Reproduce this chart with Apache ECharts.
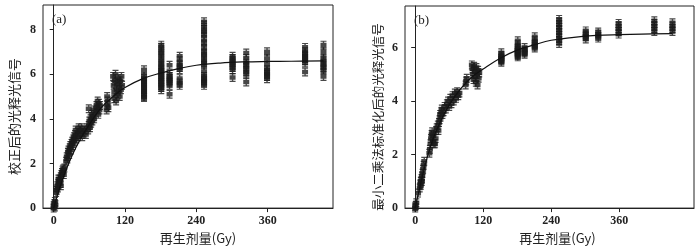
<!DOCTYPE html>
<html><head><meta charset="utf-8">
<script src="https://cdn.jsdelivr.net/npm/echarts@6/dist/echarts.min.js"></script>
<style>html,body{margin:0;padding:0;background:#fff}#c{width:700px;height:250px}</style>
</head><body><div id="c"></div>
<script>
// ---------- Panel (a): 校正后的光释光信号 ----------
// variable-dose aliquots (x = dose Gy, y = signal)
const lowDoseA = [0,0,1,2,2,3,4,5,6,7,8,8,9,10,11,12,12,13,14,15,16,17,18,21,22,23,24,25,26,27,28,29,30,31,32,33,34,35,36,37,38,40,41,42,44,45,47,48,50,52,54,56,58,59,59,60,61,62,63,64,65,66,67,68,71,72,73,74,75,76,77,78,89,90,90,91,92,100,101,102,102,103,104,105,106,107,108,109,110,111,112,113,114,115];
const lowSignalA = [0.0,0.1,0.2,0.05,0.3,0.15,0.7,0.8,1.0,0.9,1.1,1.3,1.2,1.3,1.1,1.4,1.0,1.5,1.6,1.7,1.75,1.5,1.8,2.1,2.3,2.2,2.5,2.6,2.4,2.7,2.8,2.6,2.9,3.0,2.8,3.1,3.2,3.0,3.3,3.5,3.1,3.4,3.2,3.6,3.3,3.5,3.6,3.2,3.4,3.5,3.3,3.6,3.5,3.7,4.45,3.9,3.6,4.0,3.8,4.2,3.9,4.1,4.4,4.0,4.3,4.6,4.5,4.8,4.2,4.7,4.4,4.6,4.4,4.6,5.0,4.8,4.5,5.9,5.5,5.2,4.9,5.7,6.0,4.8,5.3,5.6,5.1,5.8,5.4,5.0,5.7,5.3,5.9,5.5];
// fixed-dose aliquot groups
const groupDosesA = [152,181,195,212,253,301,324,359,423,454];
const groupSignalsA = [
  [6.2,5.9,5.8,5.7,5.5,5.4,5.3,5.2,5.1,5.0,4.95,5.6],
  [7.3,7.2,7.0,6.9,6.7,6.6,6.4,6.3,6.2,6.1,6.0,5.9,5.8,5.7,5.6,5.5,5.4,5.3],
  [6.4,6.0,5.9,5.8,5.7,5.6,5.5,5.1],
  [6.8,6.6,6.4,6.3,6.2,5.8,5.6,5.5],
  [8.35,8.2,8.0,7.9,7.7,7.5,7.3,7.1,6.9,6.8,6.6,6.5,6.4,6.1,5.9,5.8,5.7,5.6,5.5],
  [6.8,6.7,6.6,6.5,6.4,6.3,6.2,5.85],
  [6.95,6.7,6.5,6.4,6.3,6.1,6.0,5.65],
  [7.0,6.7,6.4,6.2,6.1,6.0,5.9,5.8],
  [7.2,7.0,6.9,6.8,6.7,6.6,6.5,6.1],
  [7.3,7.0,6.7,6.6,6.4,6.3,6.2,5.9]
];
// fitted growth curve
const curveDoseA = [0,10,20,30,45,60,80,100,120,150,180,210,240,280,320,360,400,454];
const curveSignalA = [0,0.9,1.65,2.3,3.1,3.75,4.5,5.0,5.4,5.8,6.05,6.25,6.4,6.5,6.55,6.57,6.58,6.6];
const yTicksA = [0,2,4,6,8];

// ---------- Panel (b): 最小二乘法标准化后的光释光信号 ----------
const lowDoseB = [0,0,1,2,5,8,9,10,10,11,12,12,13,14,15,16,25,26,27,28,29,30,31,32,33,35,36,37,38,40,41,42,43,44,45,46,47,48,50,52,54,56,58,60,62,64,66,68,70,72,74,76,78,89,90,91,100,101,102,103,104,105,106,107,108,109,110,111,112,113];
const lowSignalB = [0,0.05,0.1,0.2,0.56,0.75,0.9,1.0,0.85,1.1,1.2,1.0,1.3,1.45,1.6,1.75,2.05,2.2,2.4,2.6,2.75,2.85,2.5,2.7,2.4,2.4,2.6,2.9,3.0,3.1,2.9,3.2,3.3,3.5,3.4,3.6,3.7,3.5,3.6,3.8,3.7,3.9,4.0,3.8,4.1,3.9,4.2,4.0,4.3,4.1,4.35,4.2,4.3,4.6,4.75,4.85,5.35,5.2,5.0,4.8,5.3,5.1,4.9,4.7,5.25,5.0,4.6,5.15,4.85,5.05];
const groupDosesB = [152,181,193,211,254,301,323,359,422,454];
const groupSignalsB = [
  [5.8,5.7,5.65,5.6,5.55,5.5,5.45],
  [6.25,6.1,6.0,5.95,5.9,5.85,5.8,5.75,5.7,5.65],
  [6.0,5.9,5.85,5.8,5.75],
  [6.4,6.25,6.15,6.1,6.05,5.98],
  [7.05,6.95,6.85,6.75,6.65,6.55,6.45,6.35,6.25,6.15],
  [6.62,6.5,6.45,6.4,6.32],
  [6.58,6.5,6.42,6.35],
  [6.9,6.8,6.7,6.6,6.5],
  [7.0,6.9,6.8,6.7,6.6],
  [6.92,6.8,6.7,6.6]
];
const curveDoseB = [0,10,20,30,45,60,80,100,120,150,180,210,240,280,320,360,400,454];
const curveSignalB = [0,0.95,1.8,2.5,3.25,3.85,4.45,4.9,5.2,5.6,5.9,6.1,6.27,6.38,6.45,6.48,6.5,6.52];
const yTicksB = [0,2,4,6];

const xTicks = [0,120,240,360];
const xName = '再生剂量(Gy)';
const yNameA = '校正后的光释光信号';
const yNameB = '最小二乘法标准化后的光释光信号';
const panelLabels = ['(a)','(b)'];

// ---------- build ----------
function pts(xs, ys){ return xs.map((x,i)=>[x, ys[i]]); }
function groupPts(ds, ss){ const o=[]; ds.forEach((d,i)=>ss[i].forEach(v=>o.push([d,v]))); return o; }

const serif = '"Liberation Serif","DejaVu Serif",serif';
const cjk = '"Noto Sans CJK SC","Liberation Serif",serif';
const ink = '#222';
const errSym = 'path://M0,0H6V1.2H3.7V2.2H6V6.8H3.7V7.8H6V9H0V7.8H2.3V6.8H0V2.2H2.3V1.2H0Z';

function xAxisCfg(gi, max, pad){
  return {
    gridIndex: gi, type: 'value', min: -18, max: max,
    axisLine: {show: true, lineStyle: {color: ink, width: 1}},
    axisTick: {show: true, inside: false, length: 4, customValues: xTicks, lineStyle: {color: ink}},
    axisLabel: {customValues: xTicks, margin: 7, color: ink, fontFamily: serif, fontSize: 12, fontWeight: 'bold'},
    splitLine: {show: false},
    name: xName, nameLocation: 'middle', nameGap: 23,
    nameTextStyle: {color: ink, fontFamily: cjk, fontSize: 13, padding: [0,0,0,pad]}
  };
}
function yAxisCfg(gi, max, ticks, name, fs, gap){
  return {
    gridIndex: gi, type: 'value', min: 0, max: max,
    axisLine: {show: true, lineStyle: {color: ink, width: 1}},
    axisTick: {show: true, inside: false, length: 4, customValues: ticks, lineStyle: {color: ink}},
    axisLabel: {customValues: ticks, margin: 7, color: ink, fontFamily: serif, fontSize: 12, fontWeight: 'bold'},
    splitLine: {show: false},
    name: name, nameLocation: 'middle', nameGap: gap,
    nameTextStyle: {color: ink, fontFamily: cjk, fontSize: fs, padding: [0,20,0,0]}
  };
}
function scatter(gi, data){
  return {type: 'scatter', xAxisIndex: gi, yAxisIndex: gi, data: data, symbol: errSym,
    symbolSize: [6,9], itemStyle: {color: '#1a1a1a'}, silent: true, animation: false, z: 2};
}
function curve(gi, xs, ys){
  return {type: 'line', xAxisIndex: gi, yAxisIndex: gi, data: pts(xs, ys), smooth: 0.4,
    showSymbol: false, lineStyle: {color: '#111', width: 1.2}, silent: true, animation: false, z: 3};
}

const chart = echarts.init(document.getElementById('c'), null, {renderer: 'canvas'});
chart.setOption({
  backgroundColor: '#fff',
  animation: false,
  grid: [
    {left: 43, top: 5, width: 290, height: 207, show: true, borderColor: ink, borderWidth: 1, backgroundColor: 'transparent'},
    {left: 405, top: 6, width: 289, height: 206, show: true, borderColor: ink, borderWidth: 1, backgroundColor: 'transparent'}
  ],
  title: [
    {text: panelLabels[0], left: 47, top: 8, textStyle: {fontFamily: serif, fontSize: 13, fontWeight: 'normal', color: ink}},
    {text: panelLabels[1], left: 409, top: 9, textStyle: {fontFamily: serif, fontSize: 13, fontWeight: 'normal', color: ink}}
  ],
  xAxis: [xAxisCfg(0, 470, 20), xAxisCfg(1, 492, 16)],
  yAxis: [
    yAxisCfg(0, 9.1, yTicksA, yNameA, 13, 22),
    yAxisCfg(1, 7.55, yTicksB, yNameB, 12.5, 20)
  ],
  series: [
    scatter(0, pts(lowDoseA, lowSignalA)),
    scatter(0, groupPts(groupDosesA, groupSignalsA)),
    curve(0, curveDoseA, curveSignalA),
    scatter(1, pts(lowDoseB, lowSignalB)),
    scatter(1, groupPts(groupDosesB, groupSignalsB)),
    curve(1, curveDoseB, curveSignalB)
  ]
});
</script></body></html>
